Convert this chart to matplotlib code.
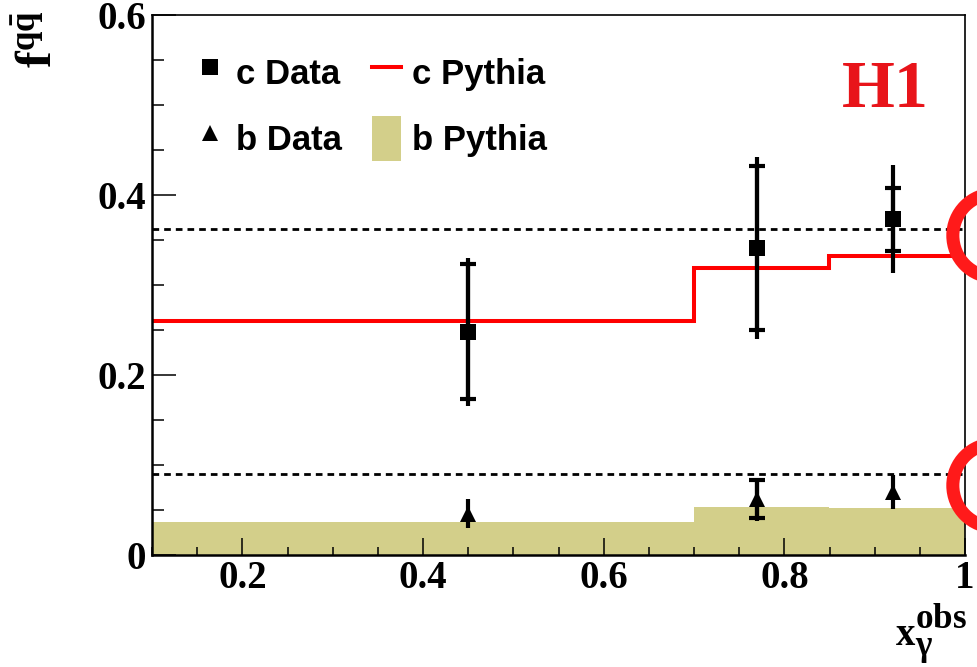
import numpy as np
import matplotlib
matplotlib.use("Agg")
import matplotlib.pyplot as plt
from matplotlib.lines import Line2D
from matplotlib.patches import Patch
from matplotlib.ticker import FixedLocator, FixedFormatter, MultipleLocator

# x_gamma^obs bins and the Pythia expectations per bin
edges = [0.1, 0.7, 0.85, 1.0]
c_pythia = [0.260, 0.319, 0.332]
b_pythia = [0.037, 0.053, 0.052]

# measured fractions (stat errors = caps, total errors = full bar)
x_data = [0.45, 0.77, 0.92]
c_frac = [0.248, 0.341, 0.373]
c_stat = [0.075, 0.091, 0.035]
c_tot = [0.082, 0.101, 0.060]
b_frac = [0.046, 0.062, 0.070]
b_stat = [np.nan, 0.021, np.nan]
b_tot = [0.016, 0.024, 0.019]

# average fractions over the full x range
c_avg = 0.362
b_avg = 0.090
ring_x = 1.032
ring_y = [0.356, 0.078]

xticks = [0.2, 0.4, 0.6, 0.8, 1.0]
xlabels = ["0.2", "0.4", "0.6", "0.8", "1"]
yticks = [0.0, 0.2, 0.4, 0.6]
ylabels = ["0", "0.2", "0.4", "0.6"]

W, H = 978, 667
plt.rcParams["font.family"] = "Liberation Serif"
plt.rcParams["font.weight"] = "bold"
plt.rcParams["mathtext.fontset"] = "custom"
plt.rcParams["mathtext.rm"] = "Liberation Serif:bold"
plt.rcParams["mathtext.bf"] = "Liberation Serif:bold"
plt.rcParams["mathtext.it"] = "Liberation Serif:bold"

fig = plt.figure(figsize=(W / 100, H / 100), dpi=100)
ax = fig.add_axes([152 / W, (H - 555) / H, 813 / W, 540 / H])

khaki = "#d3cf8a"
ax.stairs(b_pythia, edges, fill=True, color=khaki, zorder=1)
ax.stairs(c_pythia, edges, baseline=None, color="#ff0000", lw=2.9, zorder=2)

dash = (0, (2.4, 1.8))
ax.hlines([c_avg, b_avg], 0.1, 0.997, colors="k", lw=2, linestyles=[dash], zorder=2)

# total errors without caps, stat errors with caps
ax.errorbar(x_data, c_frac, yerr=c_tot, fmt="none", ecolor="k", elinewidth=3, capsize=0, zorder=4)
ax.errorbar(x_data, c_frac, yerr=c_stat, fmt="none", ecolor="k", elinewidth=3,
            capsize=6, capthick=3, zorder=4)
ax.plot(x_data, c_frac, "s", color="k", ms=12, mew=0, zorder=5)

ax.errorbar(x_data, b_frac, yerr=b_tot, fmt="none", ecolor="k", elinewidth=3, capsize=0, zorder=4)
has_stat = np.isfinite(b_stat)
ax.errorbar(np.array(x_data)[has_stat], np.array(b_frac)[has_stat],
            yerr=np.array(b_stat)[has_stat], fmt="none", ecolor="k", elinewidth=3,
            capsize=6, capthick=3, zorder=4)
ax.plot(x_data, b_frac, "^", color="k", ms=12, mew=0, zorder=5)

ax.plot([ring_x] * len(ring_y), ring_y, "o", ms=60, mfc="none", mec="#ff1a1a",
        mew=9.4, clip_on=False, zorder=6)

ax.set_xlim(0.1, 1.0)
ax.set_ylim(0, 0.6)
ax.xaxis.set_major_locator(FixedLocator(xticks))
ax.xaxis.set_major_formatter(FixedFormatter(xlabels))
ax.yaxis.set_major_locator(FixedLocator(yticks))
ax.yaxis.set_major_formatter(FixedFormatter(ylabels))
ax.xaxis.set_minor_locator(MultipleLocator(0.05))
ax.yaxis.set_minor_locator(MultipleLocator(0.05))
ax.tick_params(axis="both", which="both", direction="in", top=False, right=False,
               width=1.1, labelsize=28, colors="k")
ax.tick_params(axis="x", which="major", length=12.2, pad=3.5)
ax.tick_params(axis="x", which="minor", length=5.8)
ax.tick_params(axis="y", which="major", length=17.3, pad=4)
ax.tick_params(axis="y", which="minor", length=8.6)
for lab in ax.get_xticklabels() + ax.get_yticklabels():
    lab.set_fontweight("bold")
for side in ["left", "bottom"]:
    ax.spines[side].set_linewidth(1.8)
for side in ["top", "right"]:
    ax.spines[side].set_linewidth(1.2)

handles = [
    Line2D([], [], ls="none", marker="s", color="k", ms=11.5, mew=0),
    Line2D([], [], ls="none", marker="^", color="k", ms=11.5, mew=0),
    Line2D([], [], color="#ff0000", lw=2.9),
    Patch(facecolor=khaki, edgecolor="none"),
]
labels = ["c Data", "b Data", "c Pythia", "b Pythia"]
ax.legend(handles, labels, ncol=2, loc="upper left",
          bbox_to_anchor=((195.5 - 152) / 813, (555 - 50) / 540),
          frameon=False, borderpad=0, borderaxespad=0,
          prop={"family": "Liberation Sans", "weight": "bold", "size": 25},
          handlelength=0.84, handleheight=1.62, handletextpad=0.32,
          labelspacing=0.6, columnspacing=0.88, numpoints=1)


def fx(px):
    return px / W


def fy(py):
    return 1 - py / H


fig.text(fx(842), fy(107), "H1", color="#e8141a", fontsize=49, fontweight="bold",
         ha="left", va="baseline")

fig.text(fx(63), fy(68), r"$\mathbf{f^{q\bar{q}}}$", fontsize=36, rotation=90,
         ha="right", va="bottom")

fig.text(fx(896), fy(645), "x", fontsize=28, fontweight="bold", ha="left", va="baseline")
fig.text(fx(915), fy(645), r"${}^{\mathbf{obs}}_{\gamma}$", fontsize=36,
         ha="left", va="baseline")

fig.savefig("out.png", dpi=100)
